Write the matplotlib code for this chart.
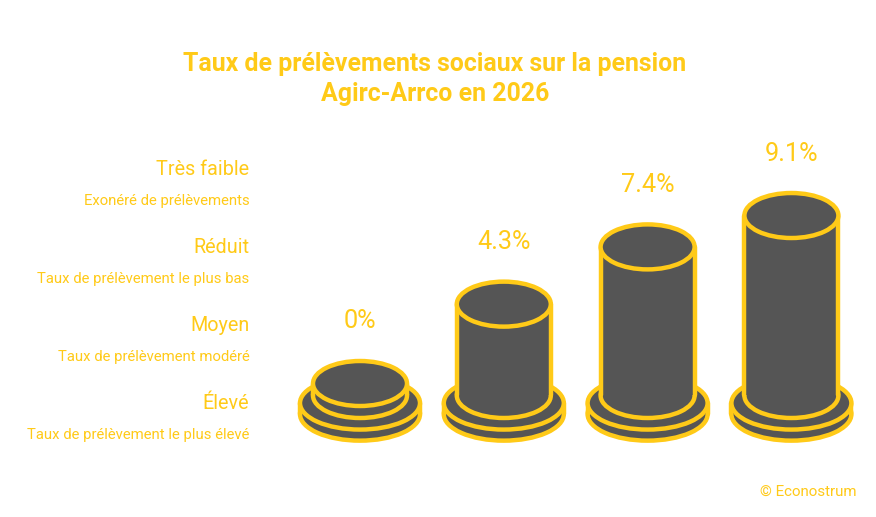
"""Taux de prelevements sociaux Agirc-Arrco 2026, stacked-coin cylinders."""
import numpy as np
import matplotlib
matplotlib.use("Agg")
import matplotlib.pyplot as plt
from matplotlib.patches import Ellipse, Rectangle

W, H = 876, 517
YEL = "#FFCA18"
DARK = "#555555"

rates = [0, 4.3, 7.4, 9.1]
rate_labels = ["0%", "4.3%", "7.4%", "9.1%"]
levels = ["Très faible", "Réduit", "Moyen", "Élevé"]
level_notes = ["Exonéré de prélèvements", "Taux de prélèvement le plus bas",
               "Taux de prélèvement modéré", "Taux de prélèvement le plus élevé"]
level_y = [169.5, 247.5, 325.5, 403.5]
note_y = [201.5, 279.5, 357.5, 435.5]

# pixel scale of the picture: one category / one percentage point
PX_X, PX_Y = 143.8, 18.46
X0, Y0 = 360, 383.5

plt.rcParams["font.family"] = ["Roboto", "DejaVu Sans"]
fig = plt.figure(figsize=(W / 100, H / 100), dpi=100)
ax = fig.add_axes([0, 0, 1, 1])
ax.set_xlim(-X0 / PX_X, (W - X0) / PX_X)
ax.set_ylim((Y0 - H) / PX_Y, Y0 / PX_Y)
ax.axis("off")


def cylinder(x, top, bottom, w_px, h_px, lw=3.2, z=1):
    w, h = w_px / PX_X, h_px / PX_Y
    ax.add_patch(Ellipse((x, bottom), w, h, fc=DARK, ec=YEL, lw=lw, zorder=z))
    ax.add_patch(Rectangle((x - w / 2, bottom), w, top - bottom, fc=DARK, ec="none", zorder=z))
    ax.plot([x - w / 2] * 2, [bottom, top], color=YEL, lw=lw, zorder=z, solid_capstyle="round")
    ax.plot([x + w / 2] * 2, [bottom, top], color=YEL, lw=lw, zorder=z, solid_capstyle="round")
    ax.add_patch(Ellipse((x, top), w, h, fc=DARK, ec=YEL, lw=lw, zorder=z))


for i, (r, lab) in enumerate(zip(rates, rate_labels)):
    # base disc, then the column standing on it
    cylinder(i, -1.06, -1.66, 120, 53, z=1)
    cylinder(i, r, -0.65, 94, 45, z=2)
    ax.text(i, r + 62 / PX_Y, lab, color=YEL, fontsize=18.2, ha="center", va="center")

for name, note, y1, y2 in zip(levels, level_notes, level_y, note_y):
    fig.text(249.5 / W, 1 - y1 / H, name, color=YEL, fontsize=14.2, ha="right", va="center")
    fig.text(249.5 / W, 1 - y2 / H, note, color=YEL, fontsize=10.7, ha="right", va="center")

fig.text(435 / W, 1 - 63.5 / H, "Taux de prélèvements sociaux sur la pension", color=YEL,
         fontsize=17.9, fontweight="bold", ha="center", va="center")
fig.text(435 / W, 1 - 93.5 / H, "Agirc-Arrco en 2026", color=YEL,
         fontsize=17.9, fontweight="bold", ha="center", va="center")
fig.text(856 / W, 1 - 492 / H, "© Econostrum", color=YEL, fontsize=10.9, ha="right", va="center")

fig.savefig("out.png", dpi=100, facecolor="white")
